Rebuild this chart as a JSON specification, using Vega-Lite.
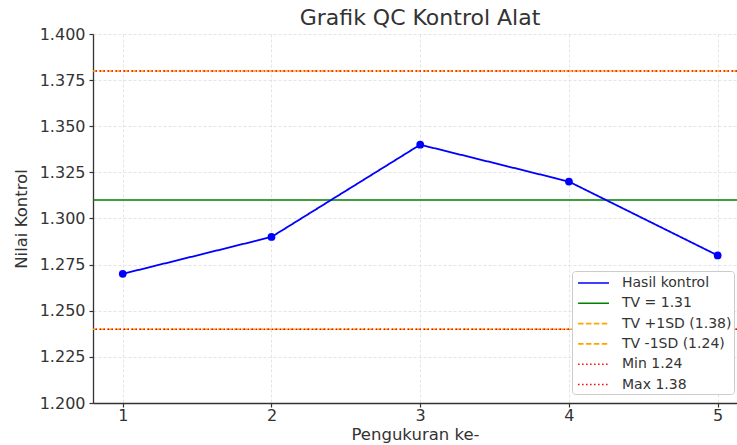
{
  "$schema": "https://vega.github.io/schema/vega-lite/v6.json",
  "width": 644,
  "height": 369,
  "autosize": {"type": "none"},
  "padding": {"left": 93, "top": 34, "right": 0, "bottom": 42},
  "background": "white",
  "title": {
    "text": "Grafik QC Kontrol Alat",
    "font": "DejaVu Sans",
    "fontSize": 22,
    "fontWeight": "normal",
    "color": "#333333",
    "anchor": "middle",
    "dx": 5,
    "offset": -4
  },
  "config": {
    "view": {"stroke": null},
    "axis": {
      "labelFont": "DejaVu Sans",
      "labelFontSize": 16,
      "labelColor": "#333333",
      "titleFont": "DejaVu Sans",
      "titleFontSize": 16.5,
      "titleFontWeight": "normal",
      "titleColor": "#333333",
      "domainColor": "#333333",
      "domainWidth": 1.3,
      "tickColor": "#333333",
      "tickSize": 4,
      "tickWidth": 1.2,
      "gridColor": "#dddddd",
      "gridDash": [3, 2],
      "gridWidth": 0.8
    }
  },
  "layer": [
    {
      "data": {
        "values": [
          {"series": "TV = 1.31", "y": 1.31},
          {"series": "TV +1SD (1.38)", "y": 1.38},
          {"series": "TV -1SD (1.24)", "y": 1.24},
          {"series": "Min 1.24", "y": 1.24},
          {"series": "Max 1.38", "y": 1.38}
        ]
      },
      "mark": {"type": "rule", "strokeWidth": 1.5},
      "encoding": {
        "y": {"field": "y", "type": "quantitative"},
        "color": {"field": "series", "type": "nominal"},
        "strokeDash": {"field": "series", "type": "nominal"}
      }
    },
    {
      "data": {
        "values": [
          {"x": 1, "y": 1.27, "series": "Hasil kontrol"},
          {"x": 2, "y": 1.29, "series": "Hasil kontrol"},
          {"x": 3, "y": 1.34, "series": "Hasil kontrol"},
          {"x": 4, "y": 1.32, "series": "Hasil kontrol"},
          {"x": 5, "y": 1.28, "series": "Hasil kontrol"}
        ]
      },
      "layer": [
        {
          "mark": {"type": "line", "strokeWidth": 1.8},
          "encoding": {
            "x": {
              "field": "x",
              "type": "quantitative",
              "scale": {"domain": [0.8, 5.13], "nice": false, "zero": false},
              "axis": {
                "title": "Pengukuran ke-",
                "values": [1, 2, 3, 4, 5],
                "format": "d",
                "labelPadding": 0,
                "titlePadding": 3
              }
            },
            "y": {
              "field": "y",
              "type": "quantitative",
              "scale": {"domain": [1.2, 1.4], "nice": false, "zero": false},
              "axis": {
                "title": "Nilai Kontrol",
                "values": [1.2, 1.225, 1.25, 1.275, 1.3, 1.325, 1.35, 1.375, 1.4],
                "format": ".3f",
                "labelPadding": 4,
                "titlePadding": 10
              }
            },
            "color": {
              "field": "series",
              "type": "nominal",
              "scale": {
                "domain": ["Hasil kontrol", "TV = 1.31", "TV +1SD (1.38)", "TV -1SD (1.24)", "Min 1.24", "Max 1.38"],
                "range": ["#0000ff", "#008000", "#ffa500", "#ffa500", "#ff0000", "#ff0000"]
              },
              "legend": {
                "title": null,
                "orient": "none",
                "legendX": 479,
                "legendY": 237,
                "symbolType": "M-0.7,0H2.94",
                "symbolSize": 289,
                "symbolStrokeWidth": 1.6,
                "symbolFillColor": "transparent",
                "labelFont": "DejaVu Sans",
                "labelFontSize": 14,
                "labelColor": "#333333",
                "labelOffset": 28.5,
                "rowPadding": 3.3,
                "padding": 2.5,
                "strokeColor": "#cccccc",
                "fillColor": "white",
                "cornerRadius": 3
              }
            },
            "strokeDash": {
              "field": "series",
              "type": "nominal",
              "scale": {
                "domain": ["Hasil kontrol", "TV = 1.31", "TV +1SD (1.38)", "TV -1SD (1.24)", "Min 1.24", "Max 1.38"],
                "range": [[1, 0], [1, 0], [5.5, 2.4], [5.5, 2.4], [1.5, 2.5], [1.5, 2.5]]
              }
            }
          }
        },
        {
          "mark": {"type": "point", "filled": true, "size": 60, "opacity": 1, "color": "#0000ff"},
          "encoding": {
            "x": {"field": "x", "type": "quantitative"},
            "y": {"field": "y", "type": "quantitative"}
          }
        }
      ]
    }
  ]
}
